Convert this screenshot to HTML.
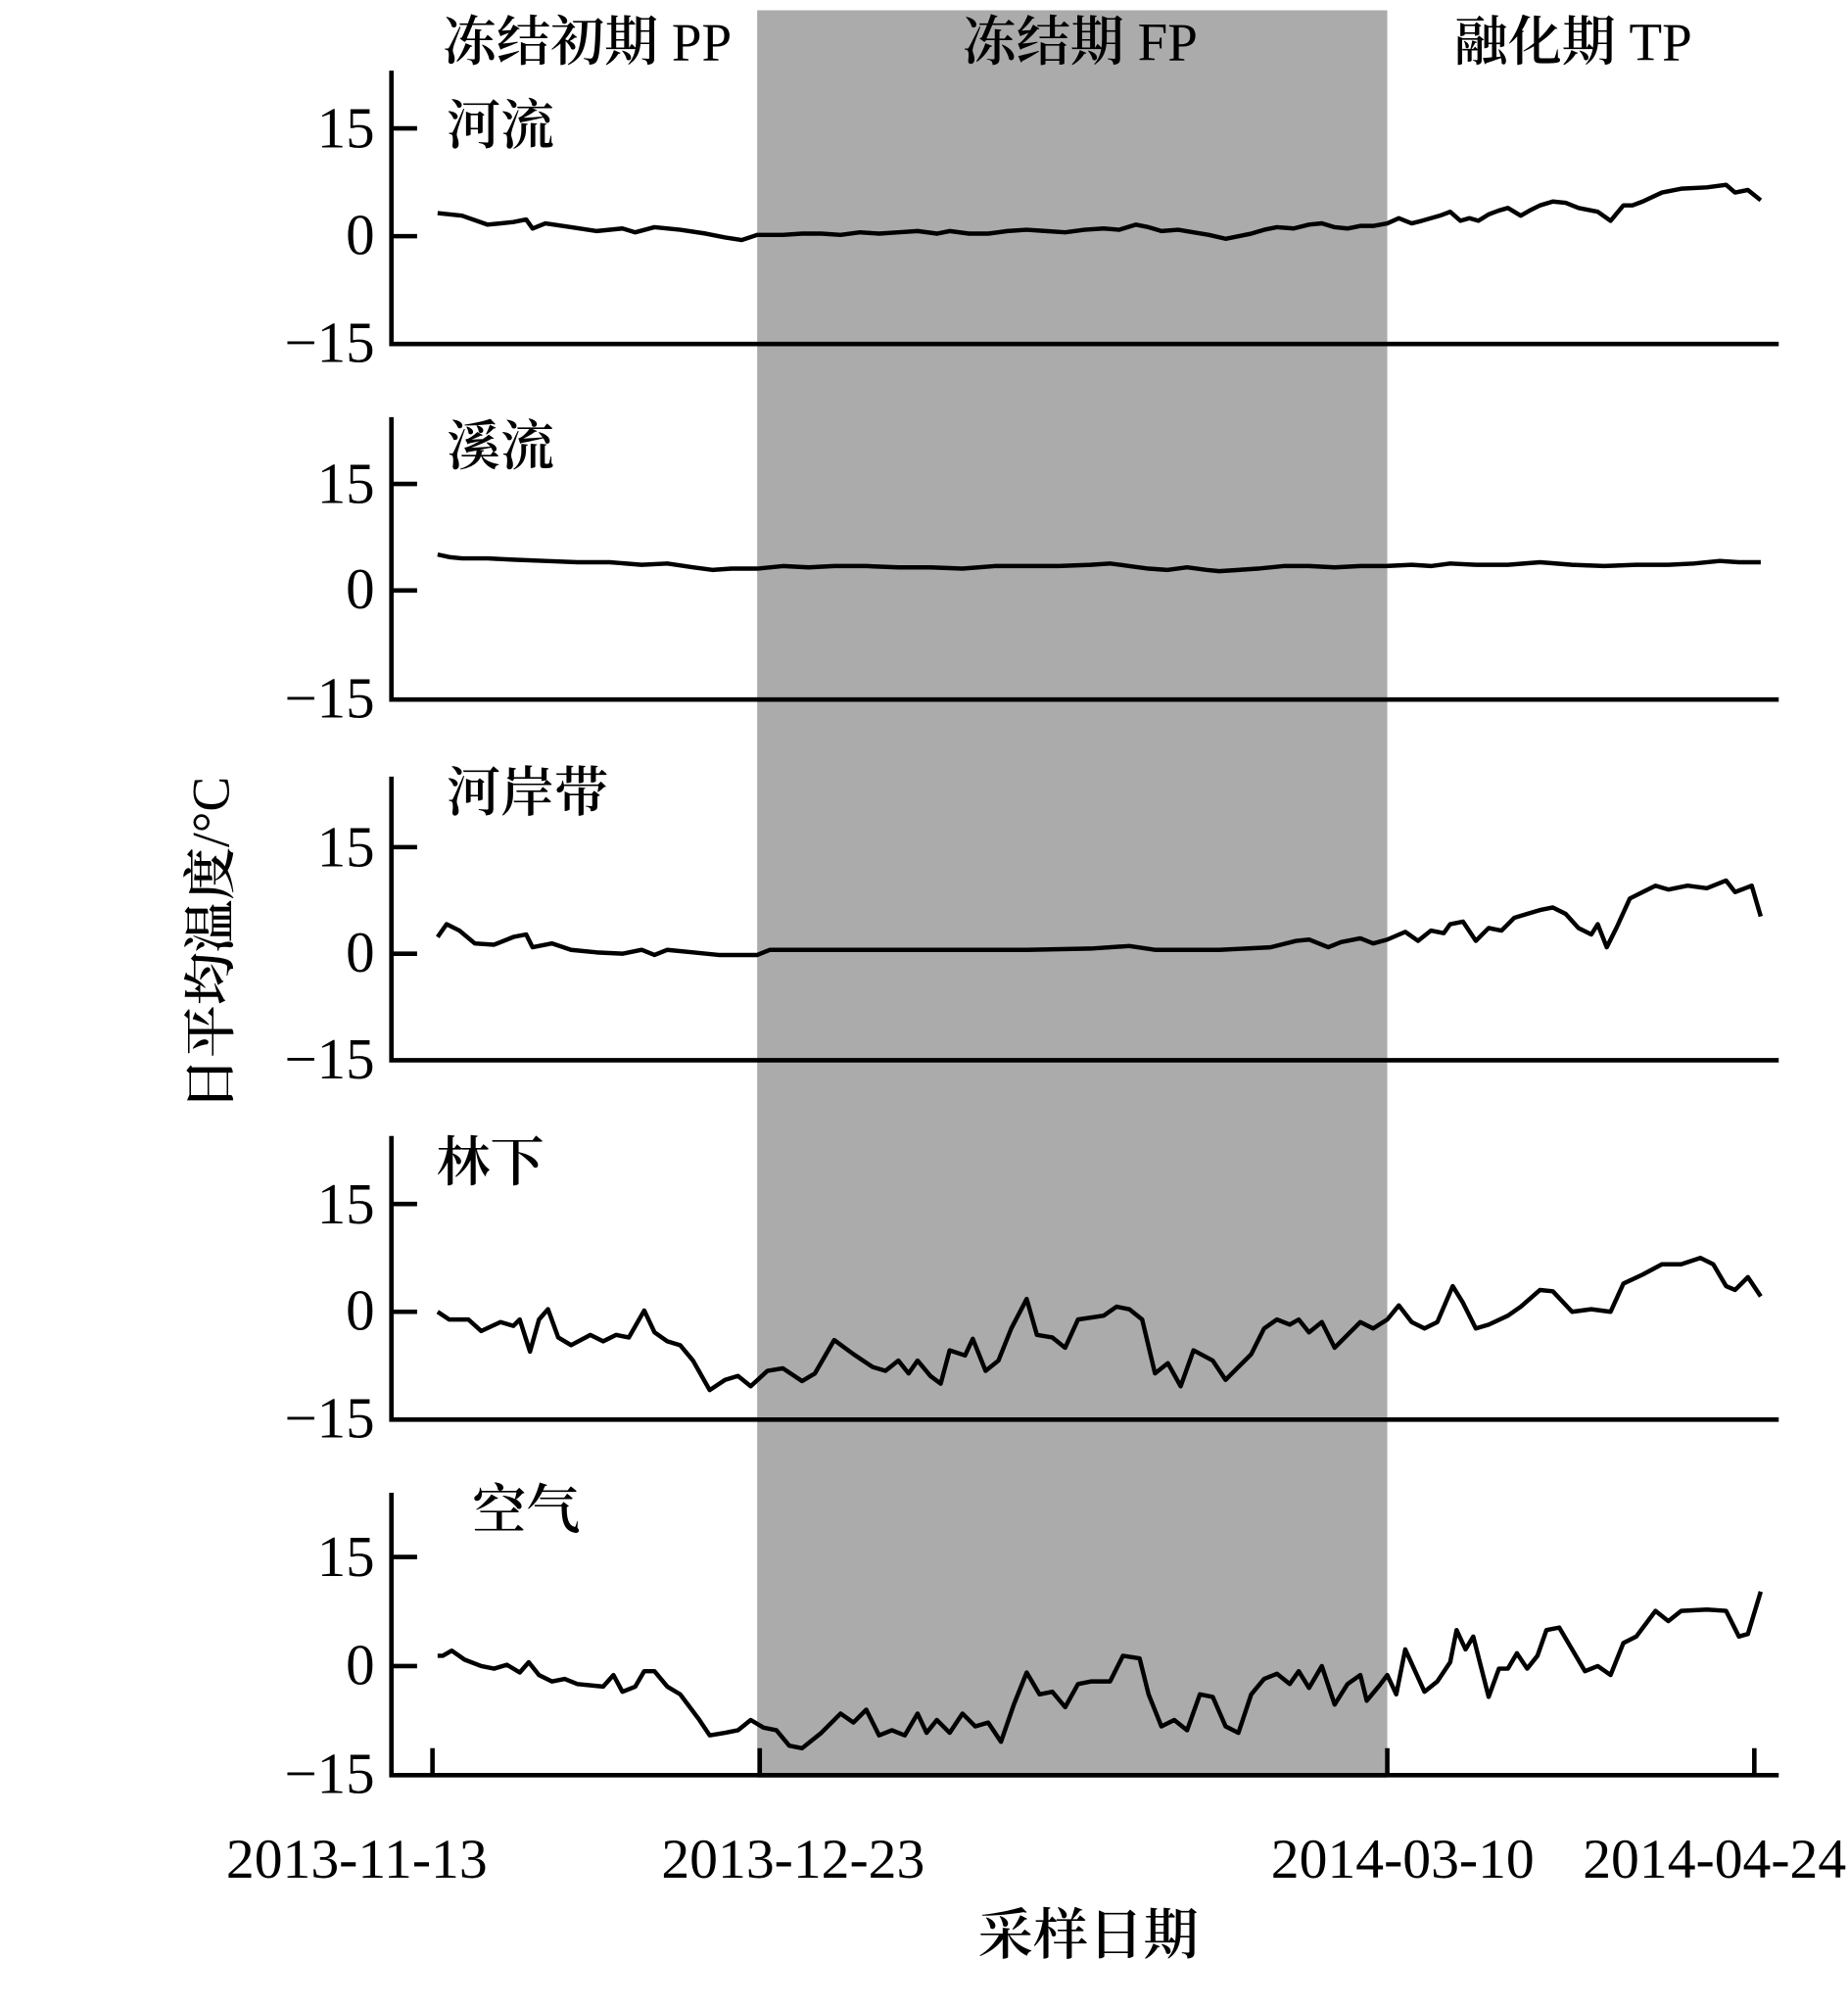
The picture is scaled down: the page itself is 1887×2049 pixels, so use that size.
<!DOCTYPE html>
<html><head><meta charset="utf-8"><style>
html,body{margin:0;padding:0;background:#fff;}
svg{display:block;}
text{font-family:"Liberation Serif","Noto Serif CJK SC",serif;fill:#000;}
.cj{font-weight:600;}
.n{font-weight:normal;}
</style></head><body>
<svg width="1887" height="2049" viewBox="0 0 1440 1563.6" xmlns="http://www.w3.org/2000/svg">
<rect x="590" y="8" width="491" height="1377" fill="#ababab"/>
<g font-size="42" class="cj">
<text x="345" y="47">冻结初期<tspan class="n"> PP</tspan></text>
<text x="750" y="47">冻结期<tspan class="n"> FP</tspan></text>
<text x="1133" y="47">融化期<tspan class="n"> TP</tspan></text>
</g>
<g font-size="42" class="cj">
<text x="348" y="112">河流</text>
<text x="348" y="362">溪流</text>
<text x="348" y="632">河岸带</text>
<text x="340" y="920">林下</text>
<text x="368" y="1191">空气</text>
</g>
<g stroke="#000" stroke-width="3.5" fill="none">
<path d="M305 55V268H1386M305 100H325M305 184H325"/>
<path d="M305 325V545H1386M305 377H325M305 460H325"/>
<path d="M305 605V826H1386M305 660H325M305 743H325"/>
<path d="M305 885V1106H1386M305 938H325M305 1022H325"/>
<path d="M305 1163V1383H1386M305 1213H325M305 1298H325"/>
<path d="M337 1383V1362M592 1383V1362M1081 1383V1362M1367 1383V1362"/>
</g>
<g font-size="45" text-anchor="end">
<text x="292" y="115">15</text><text x="292" y="198">0</text><text x="292" y="282">−15</text>
<text x="292" y="392">15</text><text x="292" y="474">0</text><text x="292" y="559">−15</text>
<text x="292" y="675">15</text><text x="292" y="757">0</text><text x="292" y="840">−15</text>
<text x="292" y="953">15</text><text x="292" y="1036">0</text><text x="292" y="1120">−15</text>
<text x="292" y="1228">15</text><text x="292" y="1312">0</text><text x="292" y="1397">−15</text>
</g>
<g font-size="44" text-anchor="middle">
<text x="278" y="1463">2013-11-13</text>
<text x="618" y="1463">2013-12-23</text>
<text x="1093" y="1463">2014-03-10</text>
<text x="1336" y="1463">2014-04-24</text>
</g>
<text x="848" y="1522" font-size="43" text-anchor="middle" class="cj">采样日期</text>
<text transform="translate(178,735) rotate(-90)" font-size="41" text-anchor="middle" class="cj">日平均温度<tspan class="n">/°C</tspan></text>
<g stroke="#000" stroke-width="3.4" fill="none" stroke-linejoin="round">
<polyline points="341,166 360,168 380,175 400,173 410,171 415,178 425,174 445,177 465,180 485,178 495,181 510,177 530,179 550,182 565,185 578,187 590,183 610,183 625,182 640,182 655,183 670,181 685,182 700,181 715,180 730,182 740,180 755,182 770,182 785,180 800,179 815,180 830,181 845,179 860,178 872,179 885,175 895,177 905,180 918,179 930,181 942,183 955,186 965,184 975,182 985,179 995,177 1008,178 1020,175 1030,174 1040,177 1050,178 1060,176 1070,176 1081,174 1090,170 1100,174 1108,172 1115,170 1122,168 1130,165 1138,172 1145,170 1152,172 1160,167 1168,164 1175,162 1185,168 1192,164 1200,160 1210,157 1220,158 1230,162 1245,165 1255,172 1265,160 1272,160 1280,157 1295,150 1310,147 1330,146 1345,144 1352,150 1362,148 1372,156"/>
<polyline points="341,432 350,434 360,435 380,435 400,436 425,437 450,438 475,438 500,440 520,439 540,442 555,444 570,443 590,443 610,441 630,442 650,441 675,441 700,442 725,442 750,443 775,441 800,441 825,441 850,440 865,439 880,441 895,443 910,444 925,442 940,444 950,445 965,444 980,443 1000,441 1020,441 1040,442 1060,441 1080,441 1100,440 1115,441 1130,439 1150,440 1175,440 1200,438 1225,440 1250,441 1275,440 1300,440 1320,439 1340,437 1355,438 1372,438"/>
<polyline points="341,730 348,720 358,725 370,735 385,736 400,730 410,728 415,738 430,735 445,740 465,742 485,743 500,740 510,744 520,740 540,742 560,744 590,744 600,740 650,740 700,740 750,740 800,740 850,739 880,737 900,740 950,740 990,738 1010,733 1020,732 1035,738 1045,734 1060,731 1070,735 1081,732 1095,726 1105,733 1115,725 1125,727 1130,720 1140,718 1150,733 1160,723 1170,725 1180,715 1190,712 1200,709 1210,707 1220,712 1230,723 1240,728 1245,720 1252,738 1260,722 1270,700 1280,695 1290,690 1300,693 1315,690 1330,692 1345,686 1352,695 1365,690 1372,714"/>
<polyline points="341,1022 350,1028 365,1028 375,1037 390,1030 400,1033 405,1028 413,1053 420,1028 427,1020 435,1042 445,1048 460,1040 470,1045 480,1040 490,1042 502,1021 510,1038 520,1045 530,1048 540,1060 553,1083 565,1075 575,1072 585,1080 598,1068 610,1066 625,1076 635,1070 650,1044 665,1055 680,1065 690,1068 700,1060 708,1070 715,1060 725,1072 733,1078 740,1052 752,1056 758,1043 768,1068 778,1060 788,1035 800,1012 808,1040 820,1042 830,1050 840,1028 860,1025 870,1018 880,1020 890,1028 900,1070 910,1062 920,1080 930,1052 945,1060 955,1075 965,1065 975,1055 985,1035 995,1028 1005,1032 1012,1028 1020,1038 1030,1030 1040,1050 1050,1040 1060,1030 1070,1035 1081,1028 1090,1017 1100,1030 1110,1035 1120,1030 1132,1002 1140,1015 1150,1035 1160,1032 1175,1025 1185,1018 1200,1005 1210,1006 1225,1022 1240,1020 1255,1022 1265,1000 1280,993 1295,985 1310,985 1325,980 1335,985 1345,1002 1352,1005 1362,995 1372,1010"/>
<polyline points="341,1290 345,1290 352,1286 362,1293 375,1298 385,1300 395,1297 405,1303 412,1295 420,1305 430,1310 440,1308 450,1312 470,1314 478,1305 485,1318 495,1314 502,1302 510,1302 520,1314 530,1320 545,1340 553,1352 565,1350 575,1348 585,1340 595,1346 605,1348 615,1360 625,1362 640,1350 655,1335 665,1342 675,1332 685,1352 695,1348 705,1352 715,1335 722,1350 730,1340 740,1350 750,1335 760,1345 770,1342 780,1357 790,1328 800,1303 810,1320 820,1318 830,1330 840,1312 850,1310 865,1310 875,1290 888,1292 895,1320 905,1345 915,1340 925,1348 935,1320 945,1322 955,1345 965,1350 975,1320 985,1308 995,1304 1005,1312 1012,1302 1020,1315 1030,1298 1040,1328 1050,1312 1060,1305 1065,1325 1075,1313 1081,1305 1088,1320 1095,1285 1110,1318 1120,1310 1130,1295 1135,1270 1142,1285 1148,1275 1160,1322 1168,1300 1175,1300 1182,1288 1190,1300 1198,1290 1205,1270 1215,1268 1225,1285 1235,1302 1245,1298 1255,1305 1265,1280 1275,1275 1290,1255 1300,1263 1310,1255 1330,1254 1345,1255 1355,1275 1362,1273 1372,1240"/>
</g>
</svg>
</body></html>
